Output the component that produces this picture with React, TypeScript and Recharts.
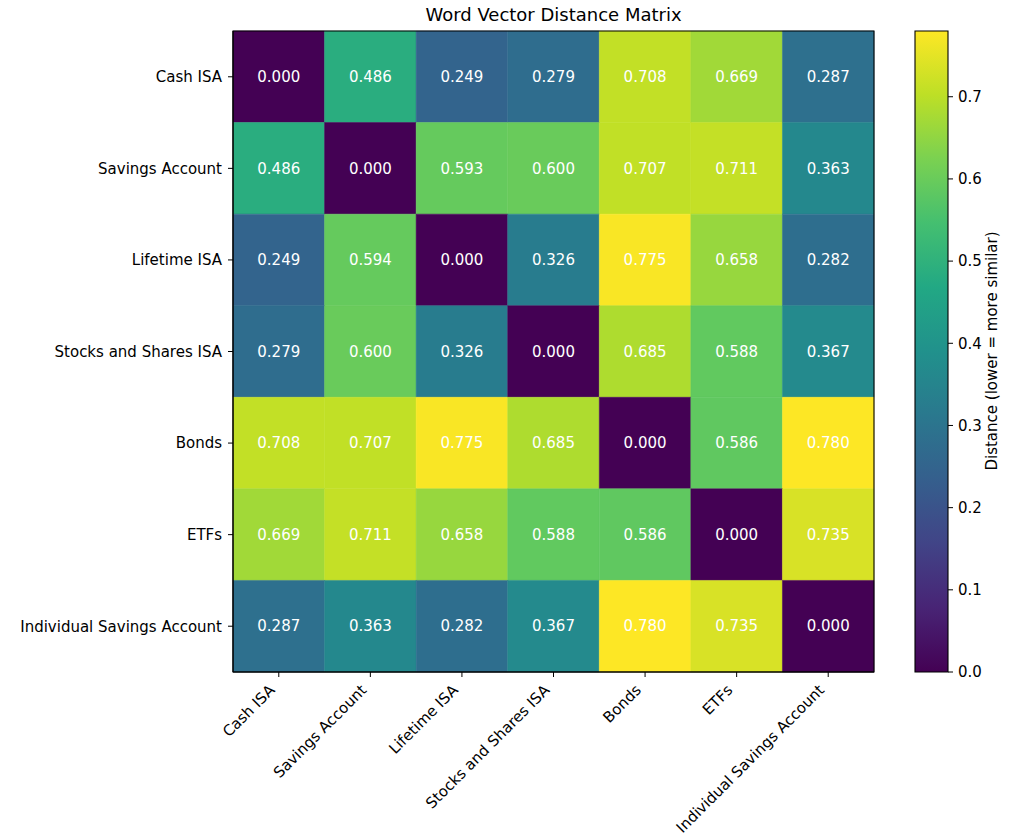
import React from 'react';
import { ScatterChart, XAxis, YAxis, Scatter, ReferenceArea } from 'recharts';

const categories = [
  'Cash ISA',
  'Savings Account',
  'Lifetime ISA',
  'Stocks and Shares ISA',
  'Bonds',
  'ETFs',
  'Individual Savings Account',
];

const rowCashISA = [0.0, 0.486, 0.249, 0.279, 0.708, 0.669, 0.287];
const rowSavingsAccount = [0.486, 0.0, 0.593, 0.6, 0.707, 0.711, 0.363];
const rowLifetimeISA = [0.249, 0.594, 0.0, 0.326, 0.775, 0.658, 0.282];
const rowStocksShares = [0.279, 0.6, 0.326, 0.0, 0.685, 0.588, 0.367];
const rowBonds = [0.708, 0.707, 0.775, 0.685, 0.0, 0.586, 0.78];
const rowETFs = [0.669, 0.711, 0.658, 0.588, 0.586, 0.0, 0.735];
const rowIndividualSavings = [0.287, 0.363, 0.282, 0.367, 0.78, 0.735, 0.0];

const colorbarTicks = [0, 0.1, 0.2, 0.3, 0.4, 0.5, 0.6, 0.7];

const rows = [
  rowCashISA,
  rowSavingsAccount,
  rowLifetimeISA,
  rowStocksShares,
  rowBonds,
  rowETFs,
  rowIndividualSavings,
];

const VMIN = 0;
const VMAX = Math.max(...rows.flat());

const VIRIDIS = [
  '#440154', '#482475', '#414487', '#355f8d', '#2a788e', '#21918c',
  '#22a884', '#44bf70', '#7ad151', '#bddf26', '#fde725',
];

function hexToRgb(h: string) {
  return [parseInt(h.slice(1, 3), 16), parseInt(h.slice(3, 5), 16), parseInt(h.slice(5, 7), 16)];
}

function viridis(t: number) {
  const tt = Math.max(0, Math.min(1, t));
  const pos = tt * (VIRIDIS.length - 1);
  const i = Math.min(Math.floor(pos), VIRIDIS.length - 2);
  const f = pos - i;
  const a = hexToRgb(VIRIDIS[i]);
  const b = hexToRgb(VIRIDIS[i + 1]);
  const c = a.map((v, k) => Math.round(v + (b[k] - v) * f));
  return `rgb(${c[0]},${c[1]},${c[2]})`;
}

const cells = rows.flatMap((row, r) => row.map((v, c) => ({ x: c, y: r, value: v })));
const idx = categories.map((_, i) => i);

const FONT = 'DejaVu Sans, sans-serif';
const FS = 15;

const XTick = (props: any) => {
  const { x, y, payload } = props;
  return (
    <g transform={`translate(${x - 3},${y + 9})`}>
      <text
        x={0}
        y={0}
        textAnchor="end"
        transform="rotate(-45)"
        fill="#000"
        fontSize={FS}
        fontFamily={FONT}
      >
        {categories[payload.value]}
      </text>
    </g>
  );
};

const CellLabel = (props: any) => {
  const { cx, cy, payload } = props;
  if (cx == null || cy == null) return null;
  return (
    <text
      x={cx}
      y={cy}
      dy="0.35em"
      textAnchor="middle"
      fill="#fff"
      fontSize={FS}
      fontFamily={FONT}
    >
      {payload.value.toFixed(3)}
    </text>
  );
};

const gradientStops = VIRIDIS.map((c, i) => (
  <stop key={i} offset={`${(i / (VIRIDIS.length - 1)) * 100}%`} stopColor={c} />
));

const colorbarData = colorbarTicks.map((t) => ({ x: 0.5, y: t }));

export default function App() {
  return (
    <div style={{ position: 'absolute', left: 0, top: 0, width: 1023, height: 836, background: '#fff', fontFamily: FONT }}>
      <div style={{ position: 'absolute', left: 0, top: 0 }}>
        <ScatterChart width={1023} height={836} margin={{ top: 31, right: 149, bottom: 0, left: 0 }}>
          <XAxis
            type="number"
            dataKey="x"
            domain={[-0.5, 6.5]}
            ticks={idx}
            interval={0}
            allowDataOverflow
            height={164}
            tickSize={5}
            tickMargin={5}
            tick={<XTick />}
            axisLine={{ stroke: '#000' }}
            tickLine={{ stroke: '#000' }}
          />
          <YAxis
            type="number"
            dataKey="y"
            domain={[-0.5, 6.5]}
            ticks={idx}
            interval={0}
            reversed
            allowDataOverflow
            width={233}
            tickSize={5}
            tickMargin={6}
            tickFormatter={(v: number) => categories[v]}
            tick={{ fill: '#000', fontSize: FS, fontFamily: FONT }}
            axisLine={{ stroke: '#000' }}
            tickLine={{ stroke: '#000' }}
          />
          {cells.map((c) => {
            const col = viridis((c.value - VMIN) / (VMAX - VMIN));
            return (
              <ReferenceArea
                key={`${c.x}-${c.y}`}
                x1={c.x - 0.5}
                x2={c.x + 0.5}
                y1={c.y - 0.5}
                y2={c.y + 0.5}
                fill={col}
                fillOpacity={1}
                stroke={col}
                strokeWidth={0.5}
                ifOverflow="visible"
              />
            );
          })}
          <ReferenceArea
            x1={-0.5}
            x2={6.5}
            y1={-0.5}
            y2={6.5}
            fill="none"
            fillOpacity={0}
            stroke="#000"
            strokeWidth={1.1}
            ifOverflow="visible"
          />
          <Scatter data={cells} isAnimationActive={false} shape={<CellLabel />} />
        </ScatterChart>
      </div>
      <div style={{ position: 'absolute', left: 0, top: 0 }}>
        <ScatterChart width={1023} height={836} margin={{ top: 31, right: 0, bottom: 164, left: 915 }}>
          <defs>
            <linearGradient id="viridisGrad" x1="0" y1="1" x2="0" y2="0">
              {gradientStops}
            </linearGradient>
          </defs>
          <XAxis type="number" dataKey="x" domain={[0, 1]} hide allowDataOverflow />
          <YAxis
            type="number"
            dataKey="y"
            orientation="right"
            domain={[VMIN, VMAX]}
            ticks={colorbarTicks}
            interval={0}
            allowDataOverflow
            width={75}
            tickSize={5}
            tickMargin={5}
            tickFormatter={(v: number) => v.toFixed(1)}
            tick={{ fill: '#000', fontSize: FS, fontFamily: FONT, textAnchor: 'start' }}
            axisLine={false}
            tickLine={{ stroke: '#000' }}
          />
          <ReferenceArea
            x1={0}
            x2={1}
            y1={VMIN}
            y2={VMAX}
            fill="url(#viridisGrad)"
            fillOpacity={1}
            stroke="#000"
            strokeWidth={1.1}
            ifOverflow="visible"
          />
          <Scatter data={colorbarData} isAnimationActive={false} shape={() => null} />
        </ScatterChart>
      </div>
      <svg width={1023} height={836} style={{ position: 'absolute', left: 0, top: 0, pointerEvents: 'none' }}>
        <text x={553.5} y={21} textAnchor="middle" fontSize={18} fontFamily={FONT} fill="#000">
          Word Vector Distance Matrix
        </text>
        <text
          x={997}
          y={351}
          textAnchor="middle"
          fontSize={FS}
          fontFamily={FONT}
          fill="#000"
          transform="rotate(-90, 997, 351)"
        >
          Distance (lower = more similar)
        </text>
      </svg>
    </div>
  );
}
